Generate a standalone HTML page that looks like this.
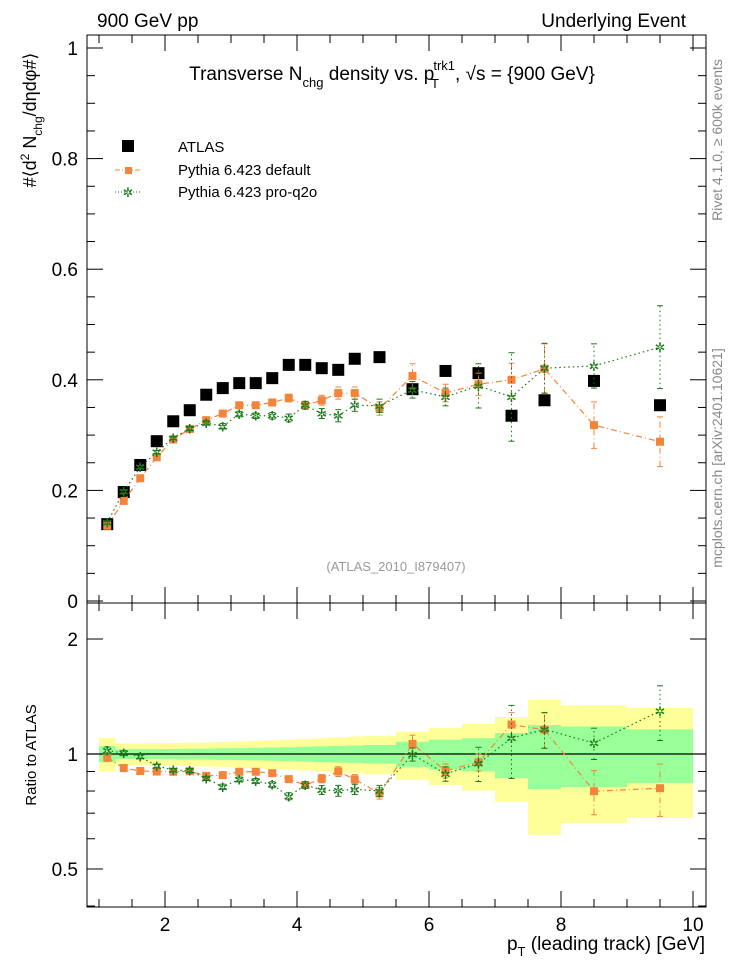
<!DOCTYPE html>
<html><head><meta charset="utf-8"><style>
body{margin:0;background:#fff}
svg{display:block;font-family:"Liberation Sans",sans-serif}
</style></head><body>
<svg id="c" width="746" height="972" viewBox="0 0 746 972">
<text x="97" y="27" font-size="19">900 GeV pp</text>
<text x="686" y="27" font-size="19" text-anchor="end">Underlying Event</text>
<text x="392" y="80" font-size="19" text-anchor="middle">Transverse N<tspan font-size="13" dy="7">chg</tspan><tspan dy="-7"> density vs. p</tspan><tspan font-size="13" dx="-1" dy="-10">trk1</tspan><tspan font-size="13" dx="-24" dy="18">T</tspan><tspan dx="16" dy="-8">, √s = {900 GeV}</tspan></text>
<text transform="translate(36,120) rotate(-90)" font-size="18" text-anchor="middle">#⟨d<tspan font-size="12" dy="-7">2</tspan><tspan dy="7"> N</tspan><tspan font-size="12" dy="6">chg</tspan><tspan dy="-6">/dηdφ#⟩</tspan></text>
<text transform="translate(36,755) rotate(-90)" font-size="15" text-anchor="middle">Ratio to ATLAS</text>
<text x="705" y="950" font-size="19" text-anchor="end">p<tspan font-size="13" dy="6">T</tspan><tspan dy="-6"> (leading track) [GeV]</tspan></text>
<text transform="translate(722,140) rotate(-90)" font-size="14" fill="#888" text-anchor="middle">Rivet 4.1.0, ≥ 600k events</text>
<text transform="translate(722,458) rotate(-90)" font-size="14" fill="#888" text-anchor="middle">mcplots.cern.ch [arXiv:2401.10621]</text>
<text x="396" y="571" font-size="13" fill="#999" text-anchor="middle">(ATLAS_2010_I879407)</text>
<g>
<rect x="122" y="140" width="12" height="12" fill="#000"/>
<text x="178" y="152" font-size="15">ATLAS</text>
<line x1="115" y1="170" x2="142" y2="170" stroke="#f4843a" stroke-dasharray="5,2,1,2"/>
<rect x="125" y="167" width="7" height="7" fill="#f4843a"/>
<text x="178" y="175" font-size="15">Pythia 6.423 default</text>
<line x1="115" y1="192" x2="142" y2="192" stroke="#1a7a1a" stroke-dasharray="1,2"/>
<text x="128" y="197" font-size="13" fill="#1a7a1a" text-anchor="middle">✲</text>
<text x="178" y="197" font-size="15">Pythia 6.423 pro-q2o</text>
</g>
<g id="g"></g>
</svg>
<script>
const binLo=[1,1.25,1.5,1.75,2,2.25,2.5,2.75,3,3.25,3.5,3.75,4,4.25,4.5,4.75,5,5.5,6,6.5,7,7.5,8,9];
const binHi=[1.25,1.5,1.75,2,2.25,2.5,2.75,3,3.25,3.5,3.75,4,4.25,4.5,4.75,5,5.5,6,6.5,7,7.5,8,9,10];
const atlas=[0.139,0.197,0.246,0.289,0.325,0.345,0.373,0.385,0.394,0.394,0.403,0.427,0.427,0.421,0.418,0.438,0.441,0.383,0.416,0.412,0.335,0.363,0.398,0.354];
const pyDef=[0.136,0.181,0.222,0.260,0.292,0.311,0.327,0.339,0.354,0.354,0.359,0.367,0.354,0.363,0.376,0.376,0.348,0.407,0.376,0.392,0.400,0.420,0.318,0.288];
const pyDefErr=[0.003,0.003,0.003,0.003,0.003,0.004,0.004,0.004,0.005,0.005,0.006,0.007,0.007,0.009,0.011,0.011,0.012,0.022,0.016,0.02,0.03,0.045,0.042,0.045];
const pyQ2o=[0.142,0.198,0.242,0.269,0.295,0.312,0.322,0.316,0.338,0.335,0.335,0.331,0.354,0.339,0.335,0.354,0.353,0.382,0.369,0.389,0.369,0.421,0.425,0.459];
const pyQ2oErr=[0.003,0.003,0.003,0.003,0.003,0.004,0.004,0.005,0.005,0.005,0.006,0.007,0.007,0.009,0.011,0.011,0.012,0.015,0.016,0.04,0.08,0.045,0.04,0.075];
const statRel=[0.049,0.03,0.03,0.03,0.031,0.032,0.033,0.035,0.036,0.038,0.04,0.042,0.045,0.048,0.05,0.052,0.056,0.077,0.09,0.1,0.135,0.19,0.18,0.16];
const totRel=[0.101,0.066,0.066,0.067,0.068,0.07,0.072,0.075,0.078,0.082,0.086,0.09,0.095,0.1,0.105,0.11,0.115,0.144,0.17,0.198,0.25,0.385,0.34,0.32];
const yTicks=[0,0.2,0.4,0.6,0.8,1];
const xTicks=[2,4,6,8,10];
const rTicks=[0.5,1,2];

const NS="http://www.w3.org/2000/svg";
const G=document.getElementById('g');
function mk(t,a,p){const e=document.createElementNS(NS,t);for(const k in a)e.setAttribute(k,a[k]);(p||G).appendChild(e);return e;}
const X=v=>33+66*v;
const Y=v=>601-553*v;
const R=v=>754-115*Math.log2(v);
const L=87,Rt=706,T=35,M=603,B=907;
const cx=binLo.map((l,i)=>(l+binHi[i])/2);

for(let i=0;i<binLo.length;i++){
  let e=mk('rect',{x:X(binLo[i]),width:X(binHi[i])-X(binLo[i]),y:R(1+totRel[i]),height:R(1-totRel[i])-R(1+totRel[i]),fill:'#ffff99'});
  
  
}
for(let i=0;i<binLo.length;i++){
  let e=mk('rect',{x:X(binLo[i]),width:X(binHi[i])-X(binLo[i]),y:R(1+statRel[i]),height:R(1-statRel[i])-R(1+statRel[i]),fill:'#99ff99'});
  
  
}
let ul=mk('line',{x1:L,x2:Rt,y1:R(1),y2:R(1),stroke:'#000','stroke-width':1.2});



let f1=mk('rect',{x:L,y:T,width:Rt-L,height:M-T,fill:'none',stroke:'#000'});


let f2=mk('rect',{x:L,y:M,width:Rt-L,height:B-M,fill:'none',stroke:'#000'});



for(let v=0;v<=1.02;v+=0.05){
  const maj=Math.abs(v/0.2-Math.round(v/0.2))<1e-6;const len=maj?16:8;
  mk('line',{x1:L,x2:L+len,y1:Y(v),y2:Y(v),stroke:'#000'});
  mk('line',{x1:Rt,x2:Rt-len,y1:Y(v),y2:Y(v),stroke:'#000'});
}
yTicks.forEach(v=>{
  let t=mk('text',{x:78,y:Y(v)+7,'font-size':19,'text-anchor':'end'});t.textContent=v===0?'0':(v===1?'1':v.toFixed(1));
  
  
});
[0.4,0.5,0.6,0.7,0.8,0.9,1,2].forEach(v=>{
  const maj=rTicks.includes(v);const len=maj?16:8;
  mk('line',{x1:L,x2:L+len,y1:R(v),y2:R(v),stroke:'#000'});
  mk('line',{x1:Rt,x2:Rt-len,y1:R(v),y2:R(v),stroke:'#000'});
});
rTicks.forEach(v=>{
  let t=mk('text',{x:78,y:R(v)+7,'font-size':19,'text-anchor':'end'});t.textContent=String(v);
  
  
});
for(let v=1;v<=10.01;v+=0.5){
  const maj=Math.abs(v-Math.round(v/2)*2)<1e-6;const len=maj?16:8;
  [[M,-1],[B,-1],[T,1],[M,1]].forEach(([y0,d])=>mk('line',{x1:X(v),x2:X(v),y1:y0,y2:y0+d*len,stroke:'#000'}));
}
xTicks.forEach(v=>{
  let t=mk('text',{x:X(v),y:931,'font-size':19,'text-anchor':'middle'});t.textContent=String(v);
  
  
});

function series(vals,errs,col,dash,name,yf,isStar){
  const pts=cx.map((x,i)=>X(x)+','+yf(i).y);
  let pl=mk('polyline',{points:pts.join(' '),fill:'none',stroke:col,'stroke-width':1.2,'stroke-dasharray':dash});
  
  
  cx.forEach((x,i)=>{
    const p=yf(i);const px=X(x);
    mk('line',{x1:px,x2:px,y1:p.lo,y2:p.hi,stroke:col,'stroke-dasharray':dash});
    mk('line',{x1:px-3,x2:px+3,y1:p.lo,y2:p.lo,stroke:col});
    mk('line',{x1:px-3,x2:px+3,y1:p.hi,y2:p.hi,stroke:col});
    let m;
    if(isStar){m=mk('text',{x:px,y:p.y+5,'font-size':13,fill:col,'text-anchor':'middle'});m.textContent='✲';}
    else m=mk('rect',{x:px-4,y:p.y-4,width:8,height:8,fill:col});
    
    
  });
}
cx.forEach((x,i)=>{
  let m=mk('rect',{x:X(x)-6,y:Y(atlas[i])-6,width:12,height:12,fill:'#000'});
  
  
});
series(pyDef,pyDefErr,'#f4843a','6,3,1,3','pythia-default',i=>({y:Y(pyDef[i]),lo:Y(pyDef[i]-pyDefErr[i]),hi:Y(pyDef[i]+pyDefErr[i])}),false);
series(pyQ2o,pyQ2oErr,'#1a7a1a','1.5,3','pythia-q2o',i=>({y:Y(pyQ2o[i]),lo:Y(pyQ2o[i]-pyQ2oErr[i]),hi:Y(pyQ2o[i]+pyQ2oErr[i])}),true);
series(pyDef,pyDefErr,'#f4843a','6,3,1,3','ratio-default',i=>({y:R(pyDef[i]/atlas[i]),lo:R((pyDef[i]-pyDefErr[i])/atlas[i]),hi:R((pyDef[i]+pyDefErr[i])/atlas[i])}),false);
series(pyQ2o,pyQ2oErr,'#1a7a1a','1.5,3','ratio-q2o',i=>({y:R(pyQ2o[i]/atlas[i]),lo:R((pyQ2o[i]-pyQ2oErr[i])/atlas[i]),hi:R((pyQ2o[i]+pyQ2oErr[i])/atlas[i])}),true);
</script>
</body></html>
